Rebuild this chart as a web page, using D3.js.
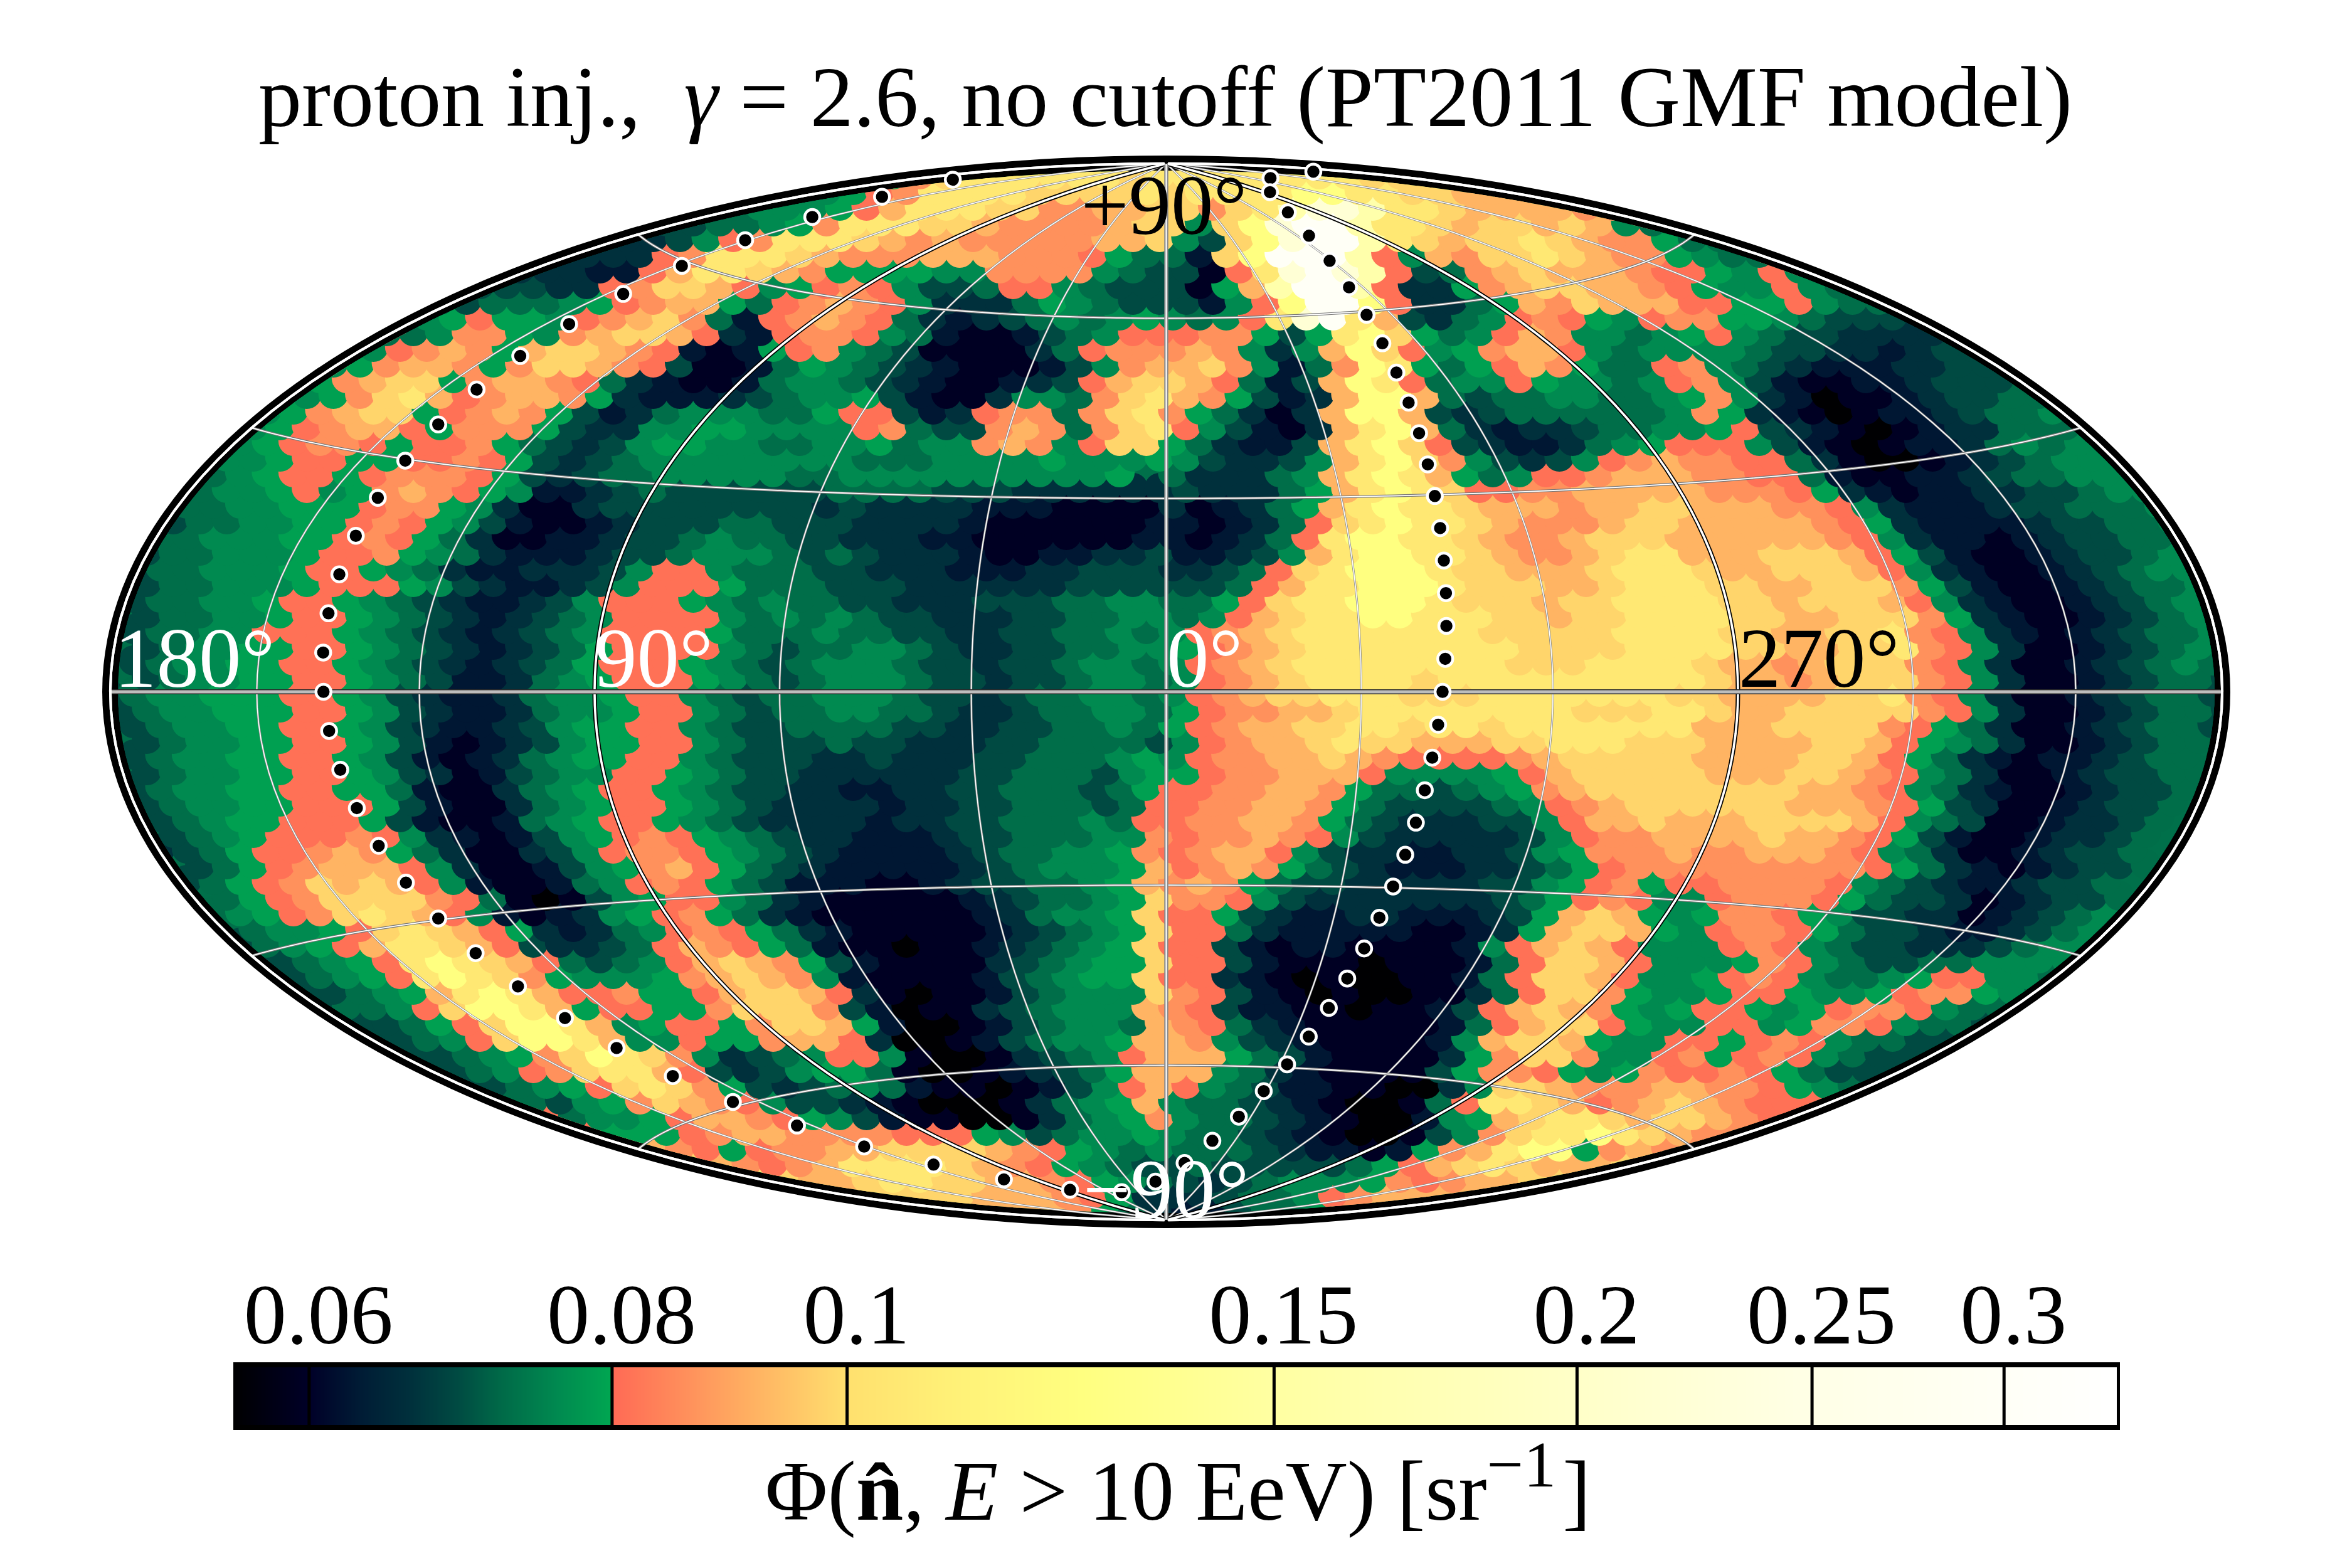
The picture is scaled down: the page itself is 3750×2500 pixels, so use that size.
<!DOCTYPE html>
<html>
<head>
<meta charset="utf-8">
<script src="https://cdn.jsdelivr.net/npm/d3@7"></script>
<style>
  html, body { margin: 0; background: #fff; }
  text { font-family: "Liberation Serif", serif; }
</style>
</head>
<body>
<svg id="chart" width="3750" height="2500"></svg>
<script>
// Flux per sky cell, written row by row from north to south. Each letter indexes fluxLevels.
const fluxLevels = { a: .056, b: .0595, c: .0625, d: .066, e: .069, f: .0725, g: .076, h: .079,
  i: .081, j: .086, k: .092, l: .098, m: .105, n: .125, o: .16, p: .22, q: .30 };

const fluxNorth = [
".......... .......... .......... ...mmmmmmm mmmmmmm... .......... .......... ..........",
".......... .......... ........fh jlmmmmmmlm mmmmmmmlll ll........ .......... ..........",
".......... .......... .....fgghi jmmmmllllm lmmmmnnmml lkkkl..... .......... ..........",
".......... .......... ..efggghik mmmlljjkkl ljlmoppomm lkkkkjjih. .......... ..........",
".......... .......... deeffghjmm mllkjjjjkl lglnpqqomm lkllklkgff .......... ..........",
".......... ........dd degijmmmlk jkjjjjjkkl gelnpqqoml kllmlkjjhf f......... ..........",
".......... ......dddd dijmmmlkjj jkkkjjjihf fclnqqqoig kjllmlkjjh gff....... ..........",
".......... .....dddcc ikmmlkjhhh hggjjjjgfe ebimpqpoie fjklkkkjii hgigf..... ..........",
".......... ....eeeddi jllkighiji geefiigfee ebhkoqqoid dhjkllkkji hggigf.... ..........",
".......... ..eefffghi jkkhfijkji gdddfhgfee ecginqqnid dfhkjlkkki ihhigffe.. ..........",
".......... .fghihhgij kljfcijkji fdcdefgfgh gfgimpqmke dfgijihgij jhhgfeeed. ..........",
".......... ffgjjhgjkl lkidcijjig fcbbcefgii ijjhehmnlh fgikjggfgh igfeedddde ..........",
".........f gijkjhkllk jicbchijgf ebbbbdfijj jkjgdgknli ghjkkigfgg ggfeeddcde e.........",
"........gh jkkjhjllkj iebbcfhgfe dcbbbcegjk kljgcfjnmh fhikjhffij gfedcccdde ee........",
".......ghj kllhjkkjif dcbbcfggfe dcbbcdeikl lkifceknmi fggihggfgi jgecbbccde eef.......",
"......fghj lmkijkkjhd cccdefgghe cbbdggfjlm kjhecdknnk feffggffgh jgdcabbcde effg......",
".....fghjk llhijkjhec dfgggffhii ecdijjfjlm jhfdbdknnk edeffffffg jhdcbabccd effg......",
".....ghijk kihjjjhedd gghhggggij feejkjfjlm igecbdkmnk fdcddeffgg hiedcbabcd dfffg.....",
"....gghijj ihiijhfede ghhggffggh fggjkjgill hfdccekmnl iedccdfghi iigecbabcc dfgfg.....",
"....gghiih hiijihedef ggggggggff fgggghgggh geddegkmnl jgedegijkj jiifdbaabc defggg....",
"...ffghiih ijjjihedef fgggggffgg ggggggggh. fdddfgkmnm khfgiijkkk jjiifcbbcc deffgg....",
"...fgghigh jkjihgccde feeeeeefff feeedddddd edddfhkmnm liijjkkkkk jjjihdcbcc ddeefggg..",
"..effgghhh ijjhgdbbde eeeeeeeded dddcccbbbb dbcdfhkmnm mlkkkjkkll kkkjjigdcc cdeefffg..",
"..effgghhi jihgecbbcd eeeffeeedd ddcbbbbbbc cbcdfilmnm mlkjjjkllk kkkkjihdcc ccdeeffgg.",
".effggghhi jihfdbbccd eefgffeedd dccbbbbbbc cbcdfimnnm mlkjjklllk kkkkkjigdc cbcdeeffg.",
".effggghii jhgfdcccde efgggfefed ddcbbccdde ccdegkmnnm mlkjjklmmk kklllkihec bbcdeefgg.",
".effggghii hgfdccddde giigfffeed ddcccddeee ddefilmnnn mllkkklmmm lkklllkigd cbbcdefgg.",
".effggghii ihgedccdeg iiihfffeee ddddddeeee eefikmmnnn mlllkklmmm llkkllljhe cbbcdeffgg",
".effgghiih gfedccdegi iihgfgffee dddeeeffgg ffhilmmnnn mlllkllmmm mllklllkig dcbbcdefgg",
".effgghiih gfedcdefgi iiigfgfgfe edddeeffgg fgiklmmnnm mmllkllmmm mllkkllljh dcbbcdefgg",
".effggiiih gfedcdefgi iiihfffgff eeddeeffgf gijklmmmmm mmlllllmmm mllkkllmji gdcbcdeffg",
".efgghhiih gfedcdefhi iiigfeffgg feddeeffgg hijklmmmmm mmmllllmmm mllkkllmji gdbbcdefgf",
".efgghhiih gfedcdefhi iihgfefggg feedeefggf gijklmmmmm mmmlllmmmm lkkjklllji gdbbcdefgf",
".efgghhiih gfeccdfghi iihgfefggg feedeefggf gijklmmmml mmmmmmmmmm lkkjklllji gdbbcdeffe"
];

const fluxSouth = [
"efgghhhiih gedccdfggh iigfeffggg feedeffggf gijkllmmml llmmmmmmml lkkkkllmji gdbbcdeffe",
"efgghhhiih gedccdfggh iigfeffggf feddeffggf hijjkklmmm mmmmmlllmm lkklllllji gdbbcdeffe",
".efgghhiih gedccdeghh iigfeeffff eeddeeffgf hijkkllmml mmlmmmmmmm kkklllljih fdbbcdeffe",
".efgghhiih gecbcdeghh iigfeeefee dddeeffffe gijkklmllk kkllmmmlll kkkkllkihg fdbbcdeffe",
".efgghhiih gecbcdfghh iigfeeedde dddeefffgh gijjkklkji iiijklllll kkkkllkihf dcbccdeff.",
".efgghhiih gedbcefggi ihgfeedddd ddeefffegh hijjkkkigg gghiklllll kkkllkjigf dbbcdeeff.",
".efgghhiih hfcbbdfghi ihgfeeddcc ddeefffefh iijjkkjhff efghjkllll llllkkjigf dcbbcdeef.",
".efgghhiii hecbbdfghi ihgfeddddc ddeefffefi ijjkkjhfee eefgijklll lllkkkjihe dbbcdeef..",
"..efghhiii hecbbcfghi ihgfeddddc ddeefffgfi ijjkkjhfed ddeegikklk kkllllkigf ebbcddef..",
"..efghiiij igdcbceghi jihgfeddcc cdeefffggj ijjkjigedd dddegijjkk kklkkjihec bbcddef...",
"..defhiijk jhfdbbdegi jjihgfedcc ccdeffgghj ijkkigeddc cddeghjjjk jjkkkjigfd bbcdeef...",
"...efhijkk kigdbbcegh jkihfedccc ccdefggghk ijkjhfedcc cddefhijjj jjjjjjihfd cbcdeef...",
"...efhijlk lkigcbbcfg ijihfecccb bcdeeffghk jkjhfeeddd ddeeghijhi ijjjjigfed ccdeef....",
"....fhijll lljifbabeg hiigfdcbbb bbcdeffghl jjigeddddd ddefhijigg ijjjihfeed bcdeef....",
"....fghijl mlkigcbcdg hijhfdcbbb bbbcdfgghl iihedccddc ccdehklkhg hjjihgeedd bcdefg....",
".....fgghi lmlkihdcdf gijihfdcbb bbbcdefghl iifdcccccb bcdhkllkhg ijjihfeedc cdefg.....",
"....eefghi kmmlkiedde fikjihfcbb abbcdefghl iiecbccbbb bcgiklkigg gijigfeedd defgg.....",
".....eefgh imnmlkifef giklkjhecb bbbdefghhl iiecbbbabb bcfillkigg ghjigfeeff gggg......",
"......eefg himnmljhgg ghjklkjgcb bbbcefghhl iidcbabaab bcfillkigg hijigffghi iggf......",
"......eeef ghkmnmkiij hhikllkidb abbcefgggl jiecbabaab bdfilljhgg hiihgghijj hgff......",
".......eef fgilnnmkhi ihhjllljec abbdefgggk jieccbbabb ceiklkjhgh iihghijjig fff.......",
"........ee efhilnnmkg hiihjllkhc aabcefggfk jifdcbbbbb cfikllihgg iighjjigff ef........",
".........e eefgilnnmk ggihhjkkid aabcefgghk kjgedcbbbb cgkllkhggi ihijigffee e.........",
".......... eeefghjlnm ljgdefgiig baabdefgik kkhfecbbbb dhjlljggij hijigfeee. ..........",
".......... .eeefgijlm mkiedeghhf baabcdefhk kkgfdcbbbb ehjjihghji ijihfeee.. ..........",
".......... ..eeefghil mljhedefgf cbbabcegik igfeccbbaa dgllkjjjkk jjihgfee.. ..........",
".......... ....effegh jlkjigeedc baaabdfghk gffedcbaab fimmlkijkl kjiiigf... ..........",
".......... .....hifgg hikkjihgec bbaabdfghj gffedcbaac ghklmmlkll kjiii..... ..........",
".......... ......ijih hhijkkjjjj iiihgefggh gffedcbaab egjlmmnmlk jji....... ..........",
".......... ........jk kjihijjkkl lllkjihgfg fffedccbch jkmnnhjkjj ji........ ..........",
".......... .......... lklkjijkmm mmlkjihgfe efeeeeefhi klmlkkkll. .......... ..........",
".......... .......... ..lmmlkklm mllkkjihgf edefggghji jkklllll.. .......... ..........",
".......... .......... .....mllkl lllkkkjihd ddeffgijkk kkklll.... .......... ..........",
".......... .......... ........kk kkkkkkjhfd cceffhjkkk kk........ .......... ..........",
".......... .......... .......... ...jjjjhdc cddfgij... .......... .......... .........."
];

// Colour bar
const colorStops = [.0558, .06, .063, .066, .069, .072, .076, .0799, .08, .09, .1, .11, .125, .15, .2, .25, .3, .335];
const colorRamp = ["#000000", "#000028", "#001c35", "#00303c", "#004a42", "#006a48", "#008a50", "#00a651",
  "#ff6a55", "#ffa960", "#ffe06e", "#fff077", "#ffff80", "#ffffa2", "#ffffc8", "#ffffe6", "#fffff6", "#ffffff"];
const colorbarTicks = [.06, .08, .1, .15, .2, .25, .3];
const colorbarLabels = ["0.06", "0.08", "0.1", "0.15", "0.2", "0.25", "0.3"];

// Graticule, in degrees
const meridians = [-150, -120, -60, -30, 30, 60, 120, 150];
const heavyMeridians = [-90, 90];
const parallels = [-60, -30, 30, 60];

// Supergalactic plane samples, every five degrees: galactic longitude and latitude
const planeLon = [137.37, 137.94, 138.5, 139.08, 139.67, 140.32, 141.02, 141.79, 142.66, 143.67, 144.85, 146.31,
  148.17, 150.66, 154.2, 159.72, 169.36, 188.91, 227.4, 265.9, 285.4, 295.1, 300.6, 304.1,
  306.6, 308.45, 309.91, 311.1, 312.1, 312.97, 313.74, 314.44, 315.09, 315.69, 316.27, 316.83,
  317.37, 317.94, 318.5, 319.08, 319.67, 320.32, 321.02, 321.79, 322.66, 323.67, 324.85, 326.31,
  328.17, 330.66, 334.2, 339.72, 349.36, 8.91, 47.4, 85.9, 105.4, 115.1, 120.6, 124.1,
  126.6, 128.45, 129.91, 131.1, 132.1, 132.97, 133.74, 134.44, 135.09, 135.69, 136.27, 136.83];
const planeLat = [0, 4.97, 9.94, 14.9, 19.87, 24.84, 29.8, 34.76, 39.71, 44.65, 49.58, 54.51,
  59.4, 64.27, 69.07, 73.74, 78.18, 81.93, 83.68, 81.93, 78.18, 73.74, 69.07, 64.27,
  59.4, 54.51, 49.58, 44.65, 39.71, 34.76, 29.8, 24.84, 19.87, 14.9, 9.94, 4.97,
  0, -4.97, -9.94, -14.9, -19.87, -24.84, -29.8, -34.76, -39.71, -44.65, -49.58, -54.51,
  -59.4, -64.27, -69.07, -73.74, -78.18, -81.93, -83.68, -81.93, -78.18, -73.74, -69.07, -64.27,
  -59.4, -54.51, -49.58, -44.65, -39.71, -34.76, -29.8, -24.84, -19.87, -14.9, -9.94, -4.97];

const skyLabels = [
  { text: "180°", x: 182, y: 1095, fill: "#fff", anchor: "start" },
  { text: "90°", x: 948, y: 1095, fill: "#fff", anchor: "start" },
  { text: "0°", x: 1860, y: 1095, fill: "#fff", anchor: "start" },
  { text: "270°", x: 2772, y: 1095, fill: "#000", anchor: "start" },
  { text: "+90°", x: 1856, y: 373, fill: "#000", anchor: "middle" },
  { text: "\u221290°", x: 1859, y: 1942, fill: "#fff", anchor: "middle" }
];

const svg = d3.select("#chart");
const cx = 1859.5, cy = 1103;
const SQRT2 = Math.SQRT2;

// Equal-area Hammer projection, which d3-geo takes as a raw function
function hammerRaw(lambda, phi) {
  const c = Math.cos(phi), d = Math.sqrt(1 + c * Math.cos(lambda / 2));
  return [2 * SQRT2 * c * Math.sin(lambda / 2) / d, SQRT2 * Math.sin(phi) / d];
}
const k = 595.5;
const projection = d3.geoProjection(hammerRaw).scale(k).translate([cx, cy]).precision(0.5);
const geoPath = d3.geoPath(projection);

const fluxColor = d3.scaleLog().domain(colorStops).range(colorRamp).clamp(true);

// Sky frame
const frame = svg.append("g");
frame.append("ellipse").attr("cx", cx).attr("cy", cy).attr("rx", 1696.5).attr("ry", 855).attr("fill", "#000");
svg.append("clipPath").attr("id", "sky").append("ellipse")
  .attr("cx", cx).attr("cy", cy).attr("rx", 1671.5).attr("ry", 831);
frame.append("ellipse").attr("cx", cx).attr("cy", cy).attr("rx", 1671.5).attr("ry", 831).attr("fill", "#00704a");

// Flux cells: staggered rows, southern rows painted first so the northern ones lie over them
const rows = fluxNorth.concat(fluxSouth).map(r => r.replace(/ /g, ""));
const xCol = d3.scaleLinear().domain([0, 79]).range([181, 3538]);
const yRow = d3.scaleLinear().domain([0, 68]).range([253, 1953]);
const cells = [];
rows.forEach((row, r) => {
  Array.from(row).forEach((ch, c) => {
    if (ch !== ".") cells.push({ r, c, v: fluxLevels[ch] });
  });
});
cells.sort((a, b) => d3.descending(a.r, b.r) || d3.ascending(a.c, b.c));
svg.append("g").attr("clip-path", "url(#sky)").selectAll("circle").data(cells).join("circle")
  .attr("cx", d => xCol(d.c) + (d.r % 2 ? 10.6 : -10.6))
  .attr("cy", d => yRow(d.r))
  .attr("r", 24)
  .attr("fill", d => fluxColor(d.v));

// Graticule
const latRange = d3.range(-89.9, 90, 2).concat([89.9]);
const lonRange = d3.range(-179.9, 180, 3).concat([179.9]);
const meridian = lon => ({ type: "LineString", coordinates: latRange.map(lat => [lon, lat]) });
const parallel = lat => ({ type: "LineString", coordinates: lonRange.map(lon => [lon, lat]) });
const grid = svg.append("g").attr("fill", "none");
function drawLines(geoms, under, underW, over, overW) {
  const g = grid.append("g");
  g.selectAll(".u").data(geoms).join("path").attr("class", "u").attr("d", geoPath).attr("stroke", under).attr("stroke-width", underW);
  g.selectAll(".o").data(geoms).join("path").attr("class", "o").attr("d", geoPath).attr("stroke", over).attr("stroke-width", overW);
}
drawLines(meridians.map(meridian), "#888", 3.2, "#fff", 1.6);
drawLines(parallels.map(parallel), "#777", 4.2, "#fff", 1.8);
drawLines(heavyMeridians.map(meridian), "#000", 7, "#fff", 3.6);
drawLines([meridian(0)], "#8a8a8a", 6.5, "#fff", 2.2);
drawLines([parallel(0)], "#2a2a2a", 8, "#bdbdbd", 5);
drawLines([meridian(-179.9), meridian(179.9)], "#fff", 4, "#fff", 4);

// Supergalactic plane
const planePoints = planeLon.map((l, i) => projection([l > 180 ? 360 - l : -l, planeLat[i]]));
svg.append("g").selectAll("circle").data(planePoints).join("circle")
  .attr("cx", d => d[0]).attr("cy", d => d[1])
  .attr("r", 12).attr("fill", "#000").attr("stroke", "#fff").attr("stroke-width", 4.5);

// Coordinate labels
svg.append("g").selectAll("text").data(skyLabels).join("text")
  .attr("x", d => d.x).attr("y", d => d.y).attr("fill", d => d.fill)
  .attr("text-anchor", d => d.anchor).attr("font-size", 135).text(d => d.text);

// Title
const title = svg.append("text").attr("x", 1858).attr("y", 201).attr("text-anchor", "middle").attr("font-size", 138).attr("fill", "#000");
title.append("tspan").text("proton inj.,\u00A0\u00A0");
title.append("tspan").attr("font-style", "italic").text("\u03B3");
title.append("tspan").text("\u00A0=\u00A02.6, no cutoff (PT2011 GMF model)");

// Colour bar with its logarithmic axis
const barX = d3.scaleLog().domain([.0558, .335]).range([370.5, 3380]);
const barTop = 2172, barHeight = 108;
const bar = svg.append("g");
const slices = d3.range(0, 3008, 2).map(i => 372 + i);
bar.selectAll("rect").data(slices).join("rect")
  .attr("x", d => d).attr("y", barTop).attr("width", 2.6).attr("height", barHeight)
  .attr("fill", d => fluxColor(barX.invert(d)));
bar.append("rect").attr("x", 372).attr("y", barTop).attr("width", 3008).attr("height", 8).attr("fill", "#000");
bar.append("rect").attr("x", 372).attr("y", barTop + barHeight - 8).attr("width", 3008).attr("height", 8).attr("fill", "#000");
bar.append("rect").attr("x", 3375).attr("y", barTop).attr("width", 5).attr("height", barHeight).attr("fill", "#000");

const axis = d3.axisTop(barX).tickValues(colorbarTicks)
  .tickFormat((d, i) => colorbarLabels[i]).tickSize(-barHeight).tickPadding(30);
const axisG = svg.append("g").attr("transform", `translate(0,${barTop})`).call(axis);
axisG.select(".domain").remove();
axisG.selectAll("line").attr("stroke", "#000").attr("stroke-width", 5);
axisG.selectAll("text").attr("font-size", 136).attr("fill", "#000")
  .attr("font-family", "Liberation Serif").attr("dx", 15).attr("dy", 0);

// Colour bar caption
const caption = svg.append("text").attr("x", 1220).attr("y", 2423).attr("font-size", 136).attr("fill", "#000");
caption.append("tspan").text("\u03A6(");
caption.append("tspan").attr("font-weight", "bold").text("n\u0302");
caption.append("tspan").text(", ");
caption.append("tspan").attr("font-style", "italic").text("E");
caption.append("tspan").text(" > 10 EeV) [sr");
caption.append("tspan").attr("dy", -53).attr("font-size", 104).text("\u22121");
caption.append("tspan").attr("dy", 53).attr("dx", 10).text("]");
</script>
</body>
</html>
